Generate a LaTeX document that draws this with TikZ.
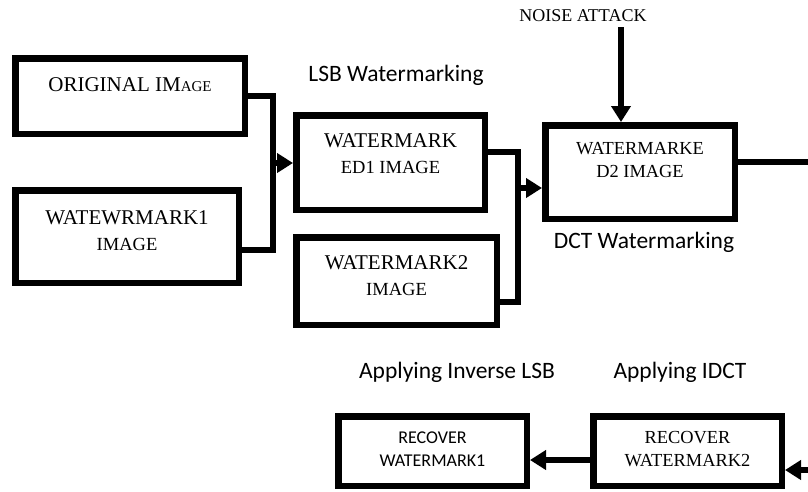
\documentclass[tikz,border=0pt]{standalone}
\usepackage{fontspec}
\setmainfont{Liberation Serif}
\newfontfamily\labelfont{Carlito}
\usetikzlibrary{arrows.meta,positioning}

\tikzset{
  blk/.style={draw, line width=6.5pt, inner sep=0pt},
  txt/.style={align=center, font=\fontsize{21}{26}\selectfont},
  rtxt/.style={align=center, font=\fontsize{18.4}{23}\selectfont},
  stage/.style={font=\labelfont\fontsize{23.5}{28}\selectfont},
  conn/.style={line width=6pt},
  arr/.style={conn, -{Triangle[length=16pt,width=19pt]}},
}
\newcommand{\smalltxt}[1]{{\fontsize{18.5}{22}\selectfont #1}}

\begin{document}
\begin{tikzpicture}[x=1pt,y=-1pt,line join=miter]
  \useasboundingbox (0,0) rectangle (808,491);

  % embedding side
  \node[blk, minimum width=229.5pt, minimum height=75.5pt] (orig) at (130,96) {};
  \node[txt] (orig-t) at ([yshift=11pt]orig.center) {ORIGINAL IM{\fontsize{15}{18}\selectfont AGE}};
  \node[blk, minimum width=223.5pt, minimum height=92.5pt] (wm1) at (127,236.5) {};
  \node[txt] (wm1-t) at ([yshift=6pt]wm1.center) {WATEWRMARK1\\\smalltxt{IMAGE}};
  \node[blk, minimum width=188.5pt, minimum height=94.5pt] (wmed1) at (390.5,162.5) {};
  \node[txt] (wmed1-t) at ([yshift=9pt]wmed1.center) {WATERMARK\\\smalltxt{ED1 IMAGE}};
  \node[blk, minimum width=200.5pt, minimum height=87.5pt] (wm2) at (396.5,281) {};
  \node[txt] (wm2-t) at ([yshift=5.5pt]wm2.center) {WATERMARK2\\\smalltxt{IMAGE}};
  \node[blk, minimum width=189.5pt, minimum height=93.5pt] (wmed2) at (640,172) {};
  \node[rtxt] (wmed2-t) at ([yshift=11.5pt]wmed2.center) {WATERMARKE\\D2 IMAGE};

  % recovery side
  \node[blk, minimum width=188.5pt, minimum height=69.5pt] (rw1) at (432.5,451) {};
  \node[align=center, font=\labelfont\fontsize{18}{23}\selectfont] (rw1-t) at ([yshift=1.5pt]rw1.center) {RECOVER\\WATERMARK1};
  \node[blk, minimum width=188.5pt, minimum height=69.5pt] (rw2) at (687.5,451) {};
  \node[rtxt] (rw2-t) at ([yshift=1.5pt]rw2.center) {RECOVER\\WATERMARK2};

  % stage captions
  \node[stage] (lsb) at (396,75) {LSB Watermarking};
  \node[stage] (dct) at (644,242) {DCT Watermarking};
  \node[stage] (ilsb) at (457,372) {Applying Inverse LSB};
  \node[stage] (idct) at (680,372) {Applying IDCT};
  \node[font=\fontsize{18}{22}\selectfont] (noise) at (583,16) {NOISE ATTACK};

  % joints and loose ends
  \coordinate (bus1) at (273,163);
  \coordinate (bus2) at (518,188);
  \coordinate (nz) at (621,27);
  \coordinate (edgeA) at (808,162);
  \coordinate (edgeB) at (808,470);

  \draw[conn] (orig.east) -| (bus1) |- ([yshift=-13.5pt]wm1.east);
  \draw[arr] (bus1) -- (bus1 -| wmed1.west);
  \draw[conn] ([yshift=10.5pt]wmed1.east) -| (bus2) |- ([yshift=-21pt]wm2.east);
  \draw[arr] (bus2) -- (bus2 -| wmed2.west);
  \draw[arr] (nz) -- (nz |- wmed2.north);
  \draw[conn] ([yshift=10pt]wmed2.east) -- (edgeA);
  \draw[arr] (edgeB) -- (edgeB -| rw2.east);
  \draw[arr] ([yshift=-9pt]rw2.west) -- ([yshift=-9pt]rw1.east);
\end{tikzpicture}
\end{document}
